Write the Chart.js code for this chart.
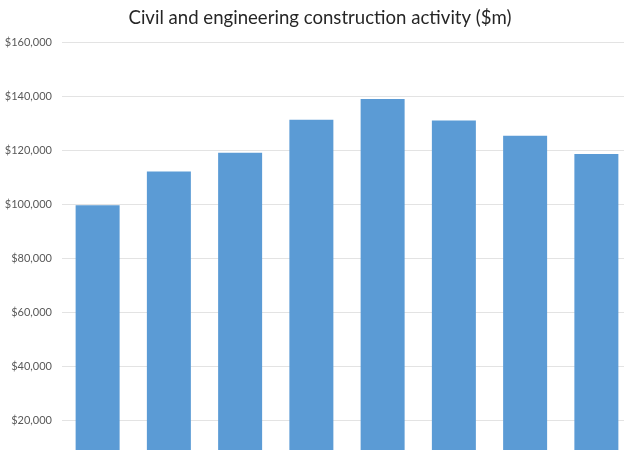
<!DOCTYPE html>
<html>
<head>
<meta charset="utf-8">
<script src="https://cdn.jsdelivr.net/npm/chart.js@4"></script>
<style>
  html, body { margin: 0; padding: 0; overflow: hidden; background: #ffffff; }
  #wrap { position: relative; width: 640px; height: 491px; }
</style>
</head>
<body>
<div id="wrap"><canvas id="chart"></canvas></div>
<script>
// Civil and engineering construction activity, $ million per period
const periods = ['1', '2', '3', '4', '5', '6', '7', '8'];
const activity = [99600, 112100, 119000, 131200, 138900, 131000, 125300, 118600];
const yTicks = [0, 20000, 40000, 60000, 80000, 100000, 120000, 140000, 160000];

const money = v => '$' + v.toLocaleString('en-US');

// Center the title over the whole canvas rather than the padded box
const centerTitle = {
  id: 'centerTitle',
  afterLayout(chart) {
    const t = chart.titleBlock;
    if (t) { t.left = 8; t.right = chart.width - 8; }
  }
};

new Chart(document.getElementById('chart'), {
  type: 'bar',
  plugins: [centerTitle],
  data: {
    labels: periods,
    datasets: [{
      data: activity,
      backgroundColor: '#5B9BD5',
      borderWidth: 0,
      categoryPercentage: 1,
      barPercentage: 0.6175
    }]
  },
  options: {
    responsive: true,
    maintainAspectRatio: false,
    animation: false,
    devicePixelRatio: 1,
    layout: { padding: { left: 0, right: 8, top: 0, bottom: 8 } },
    plugins: {
      legend: { display: false },
      tooltip: { enabled: false },
      title: {
        display: true,
        text: 'Civil and engineering construction activity ($m)',
        color: '#262626',
        font: { family: 'Lato', size: 18.6, weight: 'normal', lineHeight: 1.2 },
        padding: { top: 7, bottom: 12.7 }
      }
    },
    scales: {
      x: { display: false },
      y: {
        min: yTicks[0],
        max: yTicks[yTicks.length - 1],
        afterBuildTicks: axis => { axis.ticks = yTicks.map(v => ({ value: v })); },
        afterFit: axis => { axis.width = 62; },
        border: { display: false },
        grid: { color: '#e3e3e3', lineWidth: 1, drawTicks: false },
        ticks: {
          padding: 10,
          color: '#595959',
          font: { family: 'Lato', size: 11 },
          callback: v => money(v)
        }
      }
    }
  }
});
</script>
</body>
</html>
